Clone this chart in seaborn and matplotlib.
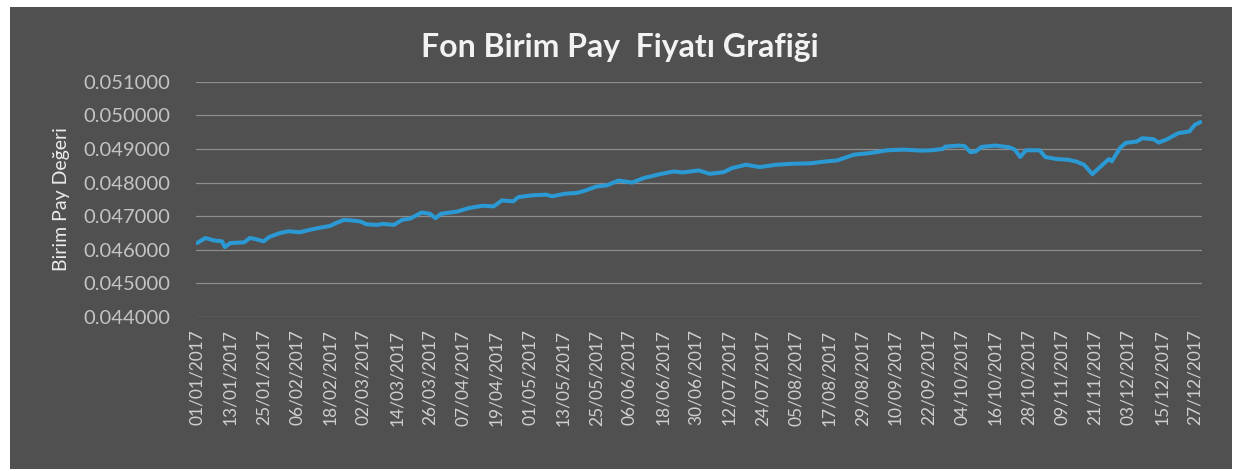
import matplotlib
matplotlib.use('Agg')
import matplotlib.pyplot as plt
import matplotlib.dates as mdates
from matplotlib.patches import Rectangle
import numpy as np
import pandas as pd
import seaborn as sns

# values (fund unit price, 2017)
dates = [
    "2017-01-01", "2017-01-04", "2017-01-07", "2017-01-10", "2017-01-11", "2017-01-13",
    "2017-01-18", "2017-01-20", "2017-01-22", "2017-01-25", "2017-01-27", "2017-01-31",
    "2017-02-03", "2017-02-07", "2017-02-11", "2017-02-14", "2017-02-18", "2017-02-20",
    "2017-02-23", "2017-02-26", "2017-03-01", "2017-03-03", "2017-03-07", "2017-03-09",
    "2017-03-13", "2017-03-16", "2017-03-19", "2017-03-23", "2017-03-26", "2017-03-28",
    "2017-03-30", "2017-04-05", "2017-04-09", "2017-04-14", "2017-04-18", "2017-04-21",
    "2017-04-25", "2017-04-27", "2017-05-02", "2017-05-07", "2017-05-09", "2017-05-14",
    "2017-05-18", "2017-05-21", "2017-05-25", "2017-05-29", "2017-06-02", "2017-06-07",
    "2017-06-11", "2017-06-17", "2017-06-22", "2017-06-25", "2017-07-01", "2017-07-05",
    "2017-07-10", "2017-07-13", "2017-07-18", "2017-07-23", "2017-07-29", "2017-08-04",
    "2017-08-10", "2017-08-15", "2017-08-20", "2017-08-26", "2017-09-01", "2017-09-07",
    "2017-09-13", "2017-09-19", "2017-09-23", "2017-09-27", "2017-09-28", "2017-10-03",
    "2017-10-05", "2017-10-07", "2017-10-09", "2017-10-11", "2017-10-16", "2017-10-21",
    "2017-10-23", "2017-10-25", "2017-10-27", "2017-11-01", "2017-11-03", "2017-11-07",
    "2017-11-11", "2017-11-14", "2017-11-17", "2017-11-20", "2017-11-23", "2017-11-26",
    "2017-11-27", "2017-11-30", "2017-12-02", "2017-12-06", "2017-12-08", "2017-12-12",
    "2017-12-14", "2017-12-17", "2017-12-21", "2017-12-25", "2017-12-27", "2017-12-29",
]
prices = [
    0.04620, 0.04635, 0.04628, 0.04625, 0.04608, 0.04620,
    0.04622, 0.04635, 0.04632, 0.04625, 0.04638, 0.04650,
    0.04655, 0.04652, 0.04660, 0.04665, 0.04671, 0.04679,
    0.04689, 0.04687, 0.04684, 0.04676, 0.04674, 0.04677,
    0.04674, 0.04689, 0.04693, 0.04711, 0.04707, 0.04694,
    0.04707, 0.04714, 0.04724, 0.04731, 0.04729, 0.04747,
    0.04744, 0.04757, 0.04762, 0.04764, 0.04759, 0.04767,
    0.04769, 0.04776, 0.04788, 0.04792, 0.04806, 0.04800,
    0.04813, 0.04825, 0.04833, 0.04830, 0.04836, 0.04826,
    0.04831, 0.04843, 0.04853, 0.04846, 0.04853, 0.04856,
    0.04857, 0.04862, 0.04866, 0.04883, 0.04888, 0.04896,
    0.04898, 0.04895, 0.04896, 0.04900, 0.04907, 0.04910,
    0.04908, 0.04890, 0.04893, 0.04906, 0.04910, 0.04905,
    0.04898, 0.04876, 0.04896, 0.04896, 0.04876, 0.04870,
    0.04868, 0.04863, 0.04853, 0.04825, 0.04848, 0.04870,
    0.04863, 0.04903, 0.04918, 0.04922, 0.04932, 0.04929,
    0.04919, 0.04929, 0.04947, 0.04952, 0.04972, 0.04980,
]
y_ticks = [0.044, 0.045, 0.046, 0.047, 0.048, 0.049, 0.050, 0.051]
tick_start = "2017-01-01"
tick_step_days = 12
tick_count = 31

df = pd.DataFrame({"Tarih": pd.to_datetime(dates), "Fiyat": prices})

sns.set_theme(style="dark")
plt.rcParams['font.family'] = ['Lato', 'DejaVu Sans']

bg = '#505050'
fig = plt.figure(figsize=(12.37, 4.71), dpi=100, facecolor='white')
fig.patches.append(Rectangle((0.008, 0.004), 0.988, 0.981, transform=fig.transFigure,
                             facecolor=bg, edgecolor='none', zorder=-10))
left, right, bottom, top = 0.1582, 0.9716, 0.327, 0.8265
ax = fig.add_axes([left, bottom, right - left, top - bottom])
ax.set_facecolor(bg)

sns.lineplot(data=df, x="Tarih", y="Fiyat", ax=ax, color='#2b9ad4', linewidth=2.9)

ax.set_ylim(0.044, 0.051)
ax.set_yticks(y_ticks)
ax.set_yticklabels([f"{v:.6f}" for v in y_ticks])
for v in y_ticks:
    ax.axhline(v, color='#8e8e8e', linewidth=0.9, zorder=0)

tick_dates = pd.date_range(tick_start, periods=tick_count, freq=f"{tick_step_days}D")
ax.set_xticks(mdates.date2num(tick_dates))
ax.set_xticklabels([d.strftime("%d/%m/%Y") for d in tick_dates], rotation=90)
x0 = mdates.date2num(pd.Timestamp(dates[0])) - 0.5
x1 = mdates.date2num(pd.Timestamp(dates[-1])) + 0.5
ax.set_xlim(x0, x1)

ax.tick_params(axis='y', colors='#c4c4c4', labelsize=14.5, length=0, pad=18)
ax.tick_params(axis='x', colors='#cfcfcf', labelsize=12.5, length=0, pad=9)
ax.grid(False)
for s in ax.spines.values():
    s.set_visible(False)

ax.set_xlabel("")
ax.set_ylabel("Birim Pay Değeri", color='#ebebeb', fontsize=14, labelpad=10)
fig.text(0.501, 0.9, "Fon Birim Pay  Fiyatı Grafiği", ha='center', va='center',
         color='#f2f2f2', fontsize=23, fontweight='bold')

fig.savefig('out.png', dpi=100, facecolor=fig.get_facecolor())
